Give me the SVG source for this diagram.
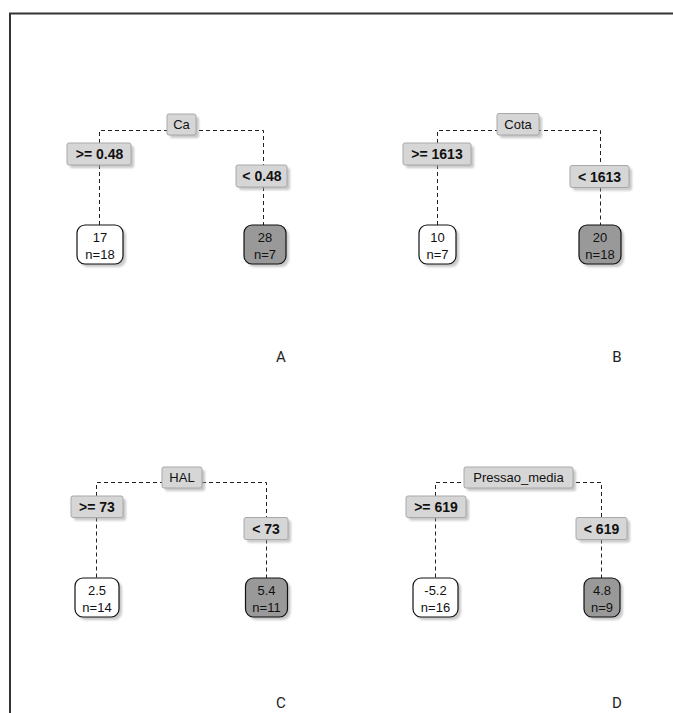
<svg xmlns="http://www.w3.org/2000/svg" width="673" height="713" viewBox="0 0 673 713">
<defs>
<filter id="sh" x="-20%" y="-20%" width="150%" height="150%">
<feGaussianBlur stdDeviation="1.2"/>
</filter>
<style>
.frame{fill:none;stroke:#333;stroke-width:2}
.dash{fill:none;stroke:#222;stroke-width:1;stroke-dasharray:4,3}
.shadow{fill:#9a9a9a;opacity:0.55;filter:url(#sh)}
.lab{fill:#d6d6d6;stroke:#a8a8a8;stroke-width:1}
.leafw{fill:#ffffff;stroke:#111;stroke-width:1.2}
.leafg{fill:#999999;stroke:#111;stroke-width:1.2}
.t{font-family:"Liberation Sans",Arial,sans-serif;font-size:13px;fill:#111;text-anchor:middle}
.b{font-family:"Liberation Sans",Arial,sans-serif;font-size:14px;font-weight:bold;fill:#111;text-anchor:middle}
.p{font-family:Roboto,"Liberation Sans",sans-serif;font-size:15px;fill:#222;text-anchor:middle}
</style>
</defs>
<rect width="673" height="713" fill="#fff"/>
<path class="frame" d="M10,713 V13.5 H673"/>

<g id="connectors">
<path class="dash" d="M99.5,143 V130.5 H263.5 V165 M99.5,165 V225 M263.5,187 V225"/>
<path class="dash" d="M437.5,143 V130.5 H600.5 V165.5 M437.5,165 V225 M600.5,187.5 V225"/>
<path class="dash" d="M96.5,496 V482.5 H266.5 V517.5 M96.5,517.5 V578 M266.5,539.5 V578"/>
<path class="dash" d="M435.5,496 V482.5 H601.5 V517.5 M435.5,517.5 V578 M601.5,539.5 V578"/>
</g>

<!-- Panel A -->
<g id="A_split">
<rect class="shadow" x="170" y="117" width="29" height="21" rx="2"/>
<rect class="lab" x="167" y="114" width="29" height="21" rx="2"/>
<text class="t" x="181.5" y="129">Ca</text>
</g>
<g id="A_left_label">
<rect class="shadow" x="70" y="146" width="64" height="22" rx="2"/>
<rect class="lab" x="67" y="143" width="64" height="22" rx="2"/>
<text class="b" x="99.5" y="159">&gt;= 0.48</text>
</g>
<g id="A_right_label">
<rect class="shadow" x="239" y="168" width="51" height="22" rx="2"/>
<rect class="lab" x="236" y="165" width="51" height="22" rx="2"/>
<text class="b" x="262" y="181">&lt; 0.48</text>
</g>
<g id="A_leaf_left">
<rect class="shadow" x="80" y="228" width="46" height="39" rx="8"/>
<rect class="leafw" x="77" y="225" width="46" height="39" rx="8"/>
<text class="t" x="100" y="242">17</text>
<text class="t" x="100" y="259">n=18</text>
</g>
<g id="A_leaf_right">
<rect class="shadow" x="247" y="228" width="42" height="39" rx="8"/>
<rect class="leafg" x="244" y="225" width="42" height="39" rx="8"/>
<text class="t" x="265" y="242">28</text>
<text class="t" x="265" y="259">n=7</text>
</g>
<text id="labelA" class="p" x="281" y="362">A</text>

<!-- Panel B -->
<g id="B_split">
<rect class="shadow" x="500" y="116.5" width="42" height="21.5" rx="2"/>
<rect class="lab" x="497" y="113.5" width="42" height="21.5" rx="2"/>
<text class="t" x="518" y="129">Cota</text>
</g>
<g id="B_left_label">
<rect class="shadow" x="406" y="146" width="68" height="22" rx="2"/>
<rect class="lab" x="403" y="143" width="68" height="22" rx="2"/>
<text class="b" x="437" y="159">&gt;= 1613</text>
</g>
<g id="B_right_label">
<rect class="shadow" x="573" y="168.5" width="59" height="22" rx="2"/>
<rect class="lab" x="570" y="165.5" width="59" height="22" rx="2"/>
<text class="b" x="599.5" y="181.5">&lt; 1613</text>
</g>
<g id="B_leaf_left">
<rect class="shadow" x="422" y="228" width="37" height="39" rx="8"/>
<rect class="leafw" x="419" y="225" width="37" height="39" rx="8"/>
<text class="t" x="437.5" y="242">10</text>
<text class="t" x="437.5" y="259">n=7</text>
</g>
<g id="B_leaf_right">
<rect class="shadow" x="582" y="228" width="42" height="39" rx="8"/>
<rect class="leafg" x="579" y="225" width="42" height="39" rx="8"/>
<text class="t" x="600" y="242">20</text>
<text class="t" x="600" y="259">n=18</text>
</g>
<text id="labelB" class="p" x="617" y="362">B</text>

<!-- Panel C -->
<g id="C_split">
<rect class="shadow" x="165" y="470" width="40" height="21" rx="2"/>
<rect class="lab" x="162" y="467" width="40" height="21" rx="2"/>
<text class="t" x="182" y="482">HAL</text>
</g>
<g id="C_left_label">
<rect class="shadow" x="74" y="499" width="52" height="21.5" rx="2"/>
<rect class="lab" x="71" y="496" width="52" height="21.5" rx="2"/>
<text class="b" x="97" y="512">&gt;= 73</text>
</g>
<g id="C_right_label">
<rect class="shadow" x="247" y="520.5" width="44" height="22" rx="2"/>
<rect class="lab" x="244" y="517.5" width="44" height="22" rx="2"/>
<text class="b" x="266" y="533.5">&lt; 73</text>
</g>
<g id="C_leaf_left">
<rect class="shadow" x="78" y="581" width="44" height="39" rx="8"/>
<rect class="leafw" x="75" y="578" width="44" height="39" rx="8"/>
<text class="t" x="97" y="595">2.5</text>
<text class="t" x="97" y="612">n=14</text>
</g>
<g id="C_leaf_right">
<rect class="shadow" x="248.5" y="581" width="42" height="39" rx="8"/>
<rect class="leafg" x="245.5" y="578" width="42" height="39" rx="8"/>
<text class="t" x="266.5" y="595">5.4</text>
<text class="t" x="266.5" y="612">n=11</text>
</g>
<text id="labelC" class="p" x="281" y="708">C</text>

<!-- Panel D -->
<g id="D_split">
<rect class="shadow" x="467" y="470" width="109" height="21" rx="2"/>
<rect class="lab" x="464" y="467" width="109" height="21" rx="2"/>
<text class="t" x="518.5" y="482">Pressao_media</text>
</g>
<g id="D_left_label">
<rect class="shadow" x="409" y="499" width="60" height="21.5" rx="2"/>
<rect class="lab" x="406" y="496" width="60" height="21.5" rx="2"/>
<text class="b" x="436" y="512">&gt;= 619</text>
</g>
<g id="D_right_label">
<rect class="shadow" x="579" y="520.5" width="51" height="22" rx="2"/>
<rect class="lab" x="576" y="517.5" width="51" height="22" rx="2"/>
<text class="b" x="601.5" y="533.5">&lt; 619</text>
</g>
<g id="D_leaf_left">
<rect class="shadow" x="416" y="581" width="45" height="39" rx="8"/>
<rect class="leafw" x="413" y="578" width="45" height="39" rx="8"/>
<text class="t" x="435.5" y="595">-5.2</text>
<text class="t" x="435.5" y="612">n=16</text>
</g>
<g id="D_leaf_right">
<rect class="shadow" x="587" y="581" width="36" height="39" rx="8"/>
<rect class="leafg" x="584" y="578" width="36" height="39" rx="8"/>
<text class="t" x="602" y="595">4.8</text>
<text class="t" x="602" y="612">n=9</text>
</g>
<text id="labelD" class="p" x="617" y="708">D</text>
</svg>
